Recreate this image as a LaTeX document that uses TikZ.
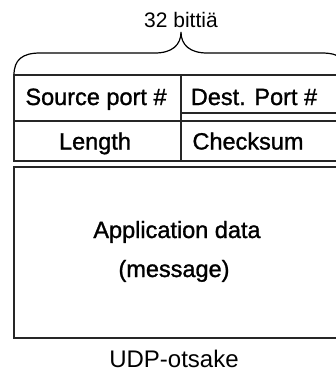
\documentclass[tikz,border=0pt]{standalone}
\usepackage{fontspec}
\setmainfont{Liberation Sans}
\newfontfamily\heavyfont{Liberation Sans}[BoldFont={Liberation Sans}, BoldFeatures={FakeBold=1.2}]
\begin{document}
\begin{tikzpicture}[x=1pt,y=-1pt,
  rule/.style={draw=black!85, line width=1.2pt},
  bracestyle/.style={draw=black, line width=1.2pt},
  lbl/.style={anchor=base, inner sep=0pt, font=\heavyfont\bfseries\fontsize{23.5}{28}\selectfont},
  toplbl/.style={anchor=base, inner sep=0pt, font=\fontsize{21}{25}\selectfont},
  caplbl/.style={anchor=base, inner sep=0pt, font=\fontsize{24}{29}\selectfont}]
\useasboundingbox (0,0) rectangle (336,376);
\clip (0,0) rectangle (336,376);
% brace
\draw[bracestyle] (14,75) .. controls (14,60) and (22,53) .. (40,53) -- (155,53)
  .. controls (172,53) and (181,45) .. (181,32)
  .. controls (181,45) and (190,53) .. (207,53) -- (322,53)
  .. controls (340,53) and (348,60) .. (348,75);
% header table
\draw[rule] (14,75) rectangle (350,161);
\draw[rule] (181,75) -- (181,161);
\draw[rule] (14,121) -- (350,121);
\draw[rule] (181,113) -- (350,113);
% data box
\draw[rule] (14,167) rectangle (350,338);
% texts
\node[toplbl] (bits) at (181,27) {32 bittiä};
\node[lbl] (src) at (96,105) {Source port \#};
\node[lbl] (dst) at (254,105) {Dest. Port \#};
\node[lbl] (len) at (95,149.5) {Length};
\node[lbl] (chk) at (248,149.5) {Checksum};
\node[lbl] (app) at (177,238) {Application data};
\node[lbl] (msg) at (174,277) {(message)};
\node[caplbl] (cap) at (174,367) {UDP-otsake};
\end{tikzpicture}
\end{document}
